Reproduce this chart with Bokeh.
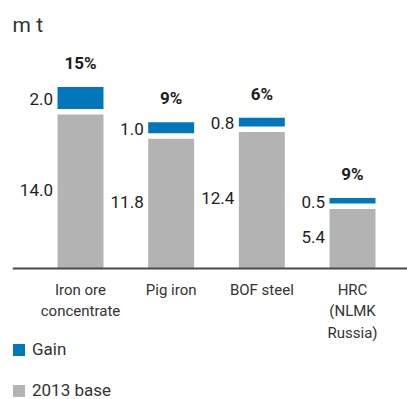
import numpy as np
from bokeh.plotting import figure
from bokeh.models import ColumnDataSource, Range1d, Span, Legend, LegendItem
from bokeh.core.properties import value
from bokeh.embed import file_html
from bokeh.resources import INLINE

# ---- data ----
categories = ["Iron ore\nconcentrate", "Pig iron", "BOF steel", "HRC\n(NLMK\nRussia)"]
base_2013 = [14.0, 11.8, 12.4, 5.4]
gain = [2.0, 1.0, 0.8, 0.5]
gain_pct = ["15%", "9%", "6%", "9%"]

# ---- style ----
BLUE = "#0077BB"
GREY = "#B3B3B3"
TEXT = "#1e1e1e"
FONT = value("Roboto")
GAP = 0.5          # white separator between base and gain (data units)
PX_PER_UNIT = 11.0
BAR_W = 0.507

x = np.arange(len(categories))
base = np.array(base_2013)
g = np.array(gain)
gain_bottom = base + GAP
gain_top = gain_bottom + g

src = ColumnDataSource(dict(
    x=x, base=base, gb=gain_bottom, gt=gain_top,
    base_mid=base / 2, gain_mid=gain_bottom + g / 2,
    base_lbl=[f"{v:.1f}" for v in base_2013],
    gain_lbl=[f"{v:.1f}" for v in gain],
    pct=gain_pct, cat=categories,
    zero=np.zeros(len(categories)),
))

W, H = 407, 399
p = figure(width=W, height=H, output_backend="svg", toolbar_location=None,
           min_border_left=12, min_border_right=0, min_border_top=0, min_border_bottom=0,
           x_range=Range1d(-0.75, -0.75 + 395 / 90.67),
           y_range=Range1d(-131 / PX_PER_UNIT, 268 / PX_PER_UNIT))
p.axis.visible = False
p.grid.visible = False
p.outline_line_color = None
p.background_fill_color = "white"
p.border_fill_color = "white"

r_base = p.vbar(x="x", top="base", bottom=0, width=BAR_W, source=src,
                fill_color=GREY, line_color=None)
r_gain = p.vbar(x="x", top="gt", bottom="gb", width=BAR_W, source=src,
                fill_color=BLUE, line_color=None)

p.add_layout(Span(location=0, dimension="width", line_color="#4a4a4a", line_width=2))

# value labels left of bars
p.text(x="x", y="base_mid", text="base_lbl", source=src, x_offset=-(BAR_W / 2 * 90.67) - 4.5,
       y_offset=-2, text_align="right", text_baseline="middle", text_font=FONT,
       text_font_size="17px", text_color=TEXT)
p.text(x="x", y="gain_mid", text="gain_lbl", source=src, x_offset=-(BAR_W / 2 * 90.67) - 4.5,
       y_offset=1, text_align="right", text_baseline="middle", text_font=FONT,
       text_font_size="17px", text_color=TEXT)
# percentage labels
p.text(x="x", y="gt", text="pct", source=src, y_offset=-24,
       text_align="center", text_baseline="middle", text_font=FONT,
       text_font_size="17px", text_font_style="bold", text_color=TEXT)
# category labels
p.text(x="x", y="zero", text="cat", source=src, y_offset=12,
       text_align="center", text_baseline="top", text_font=FONT,
       text_font_size="15px", text_color="#333333", text_line_height=1.2)

# unit title
p.text(x=[-0.75], y=[268 / PX_PER_UNIT], text=["m t"], x_offset=0, y_offset=24,
       text_align="left", text_baseline="middle", text_font=FONT,
       text_font_size="21px", text_color="#333333")

legend = Legend(items=[LegendItem(label="Gain", renderers=[r_gain]),
                       LegendItem(label="2013 base", renderers=[r_base])],
                location=(-1, -1), orientation="vertical",
                glyph_width=15, glyph_height=15, label_height=15,
                spacing=21, padding=0, margin=0,
                label_text_font="Roboto", label_text_font_size="17px",
                label_text_color="#333333", label_standoff=6,
                border_line_color=None, background_fill_alpha=0)
p.add_layout(legend)

open("out.html", "w").write(file_html(p, INLINE))
